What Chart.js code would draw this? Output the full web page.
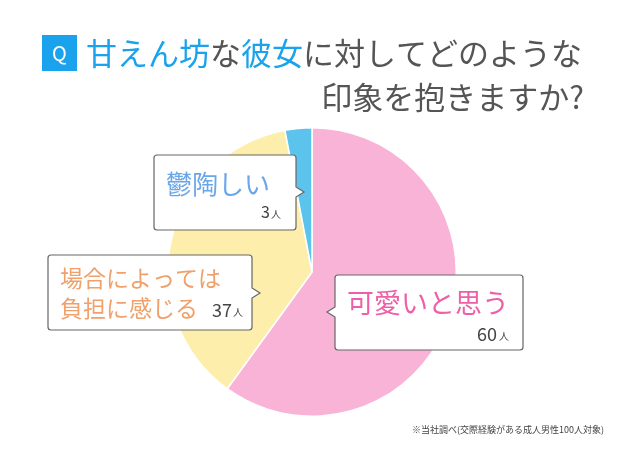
<!DOCTYPE html>
<html><head><meta charset="utf-8">
<script src="https://cdn.jsdelivr.net/npm/chart.js@4"></script>
<style>body{margin:0;background:#fff}#c{display:block}</style>
</head><body>
<canvas id="c" width="625" height="450"></canvas>
<script>
const categories = ["可愛いと思う", "場合によっては負担に感じる", "鬱陶しい"];
const counts = [60, 37, 3];
const colors = ["#f9b3d6", "#fdeeab", "#5bc3ec"];
const F = '"Noto Sans CJK JP", sans-serif';

function bubble(ctx, x, y, w, h, tipSide, tipY) {
    ctx.beginPath();
    const r = 3;
    ctx.moveTo(x + r, y);
    ctx.lineTo(x + w - r, y);
    ctx.arcTo(x + w, y, x + w, y + r, r);
    if (tipSide === "right") {
        ctx.lineTo(x + w, tipY - 5);
        ctx.lineTo(x + w + 8, tipY);
        ctx.lineTo(x + w, tipY + 5);
    }
    ctx.lineTo(x + w, y + h - r);
    ctx.arcTo(x + w, y + h, x + w - r, y + h, r);
    ctx.lineTo(x + r, y + h);
    ctx.arcTo(x, y + h, x, y + h - r, r);
    if (tipSide === "left") {
        ctx.lineTo(x, tipY + 5);
        ctx.lineTo(x - 8, tipY);
        ctx.lineTo(x, tipY - 5);
    }
    ctx.lineTo(x, y + r);
    ctx.arcTo(x, y, x + r, y, r);
    ctx.closePath();
    ctx.fillStyle = "#fff";
    ctx.fill();
    ctx.strokeStyle = "#666";
    ctx.lineWidth = 1.2;
    ctx.stroke();
}

const overlay = {
    id: "overlay",
    afterDraw(chart) {
        const ctx = chart.ctx;
        ctx.save();
        // title
        ctx.fillStyle = "#1aa3ec";
        ctx.fillRect(42, 35, 35, 36);
        ctx.fillStyle = "#fff";
        ctx.font = "20px " + F;
        ctx.textBaseline = "middle";
        ctx.textAlign = "center";
        ctx.fillText("Q", 59.5, 53);
        ctx.textAlign = "left";
        ctx.font = "31px " + F;
        const parts = [["甘えん坊", "#1aa3ec"], ["な", "#555"], ["彼女", "#1aa3ec"], ["に対してどのような", "#555"]];
        let x = 86;
        parts.forEach(p => {
            ctx.fillStyle = p[1];
            ctx.fillText(p[0], x, 53);
            x += ctx.measureText(p[0]).width;
        });
        ctx.fillStyle = "#555";
        ctx.textAlign = "right";
        ctx.fillText("印象を抱きますか?", 584, 97);

        // callouts
        bubble(ctx, 154, 155, 142, 75, "right", 192);
        ctx.textAlign = "left";
        ctx.font = "26px " + F;
        ctx.fillStyle = "#6aa6e8";
        ctx.fillText("鬱陶しい", 166, 184);
        ctx.fillStyle = "#444";
        ctx.textAlign = "right";
        ctx.font = "16px " + F;
        ctx.fillText(counts[2], 270, 212);
        ctx.font = "10px " + F;
        ctx.fillText("人", 281, 214);

        bubble(ctx, 48, 255, 204, 75, "right", 293);
        ctx.textAlign = "left";
        ctx.font = "23px " + F;
        ctx.fillStyle = "#f0a06a";
        ctx.fillText("場合によっては", 60, 278);
        ctx.fillText("負担に感じる", 60, 308);
        ctx.fillStyle = "#444";
        ctx.textAlign = "right";
        ctx.font = "18px " + F;
        ctx.fillText(counts[1], 232, 310);
        ctx.font = "10px " + F;
        ctx.fillText("人", 243, 312);

        bubble(ctx, 335, 275, 188, 75, "left", 312);
        ctx.textAlign = "left";
        ctx.font = "27px " + F;
        ctx.fillStyle = "#ee5fa8";
        ctx.fillText("可愛いと思う", 347, 303);
        ctx.fillStyle = "#444";
        ctx.textAlign = "right";
        ctx.font = "18px " + F;
        ctx.fillText(counts[0], 497, 334);
        ctx.font = "10px " + F;
        ctx.fillText("人", 509, 336);

        ctx.font = "9px " + F;
        ctx.fillStyle = "#444";
        ctx.fillText("※当社調べ(交際経験がある成人男性100人対象)", 604, 430);
        ctx.restore();
    }
};

new Chart(document.getElementById("c"), {
    type: "pie",
    data: {
        labels: categories,
        datasets: [{ data: counts, backgroundColor: colors, borderColor: "#fff", borderWidth: 1.5 }]
    },
    options: {
        responsive: false,
        animation: false,
        layout: { padding: { top: 127, bottom: 33, left: 167, right: 168 } },
        plugins: { legend: { display: false }, tooltip: { enabled: false } }
    },
    plugins: [overlay]
});
</script>
</body></html>
